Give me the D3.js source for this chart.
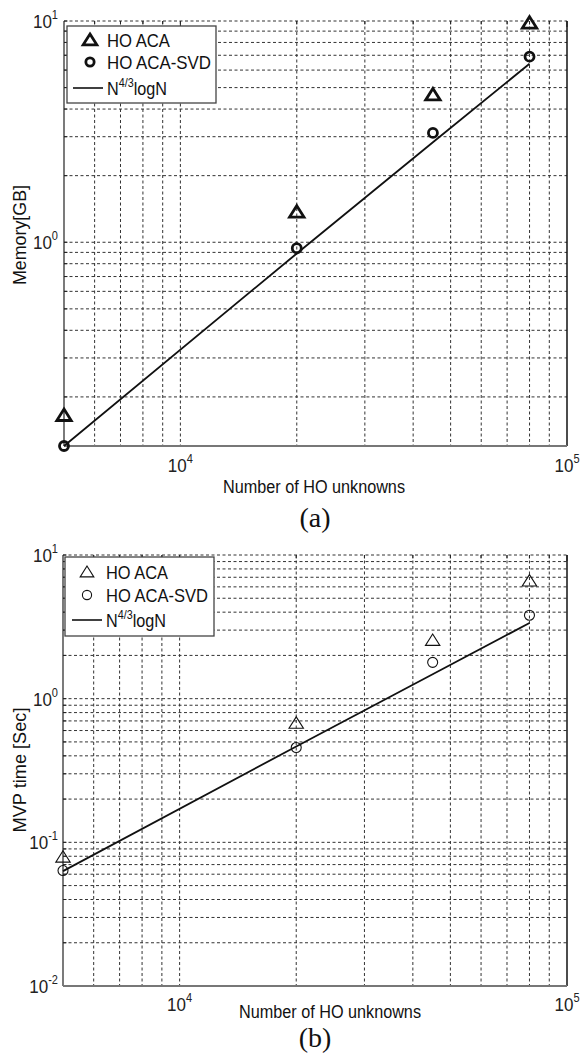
<!DOCTYPE html>
<html><head><meta charset="utf-8">
<script src="https://cdn.jsdelivr.net/npm/d3@7"></script>
<style>body{margin:0;background:#fff} svg{display:block}</style>
</head><body><svg id="c" width="583" height="1055"></svg>
<script>
// ---- data ----
const unknowns = [5000, 20000, 45000, 80000];
const memACA = [0.165, 1.37, 4.64, 9.8];
const memSVD = [0.12, 0.94, 3.12, 6.9];
const memFit = [0.12, 0.89, 2.83, 6.41];
const mvpACA = [0.079, 0.675, 2.55, 6.6];
const mvpSVD = [0.0636, 0.457, 1.79, 3.81];
const mvpFit = [0.063, 0.465, 1.48, 3.36];
const xTickValues = [1e4, 1e5];
const xTickExp = ["4", "5"];
const memTickValues = [1, 10];
const memTickExp = ["0", "1"];
const mvpTickValues = [0.01, 0.1, 1, 10];
const mvpTickExp = ["-2", "-1", "0", "1"];
const legendLabels = ["HO ACA", "HO ACA-SVD", "logN"];
const xTitle = "Number of HO unknowns";
const memTitle = "Memory[GB]";
const mvpTitle = "MVP time [Sec]";

const svg = d3.select("#c");
const FONT = "'Liberation Sans', Arial, sans-serif";

function minorTicks(lo, hi) {
  const out = [];
  for (let d = Math.floor(Math.log10(lo)); d <= Math.ceil(Math.log10(hi)); d++) {
    for (let k = 1; k <= 9; k++) {
      const v = k * Math.pow(10, d);
      if (v >= lo * 1.0001 && v <= hi * 1.0001) out.push(v);
    }
  }
  return out;
}

function tri(s) {
  const w = s * 0.6, h = s * 0.5;
  return `M0,${-h * 1.05}L${w},${h * 0.85}L${-w},${h * 0.85}Z`;
}

function drawPanel(cfg) {
  const g = svg.append("g");
  const x = d3.scaleLog().domain([5000, 1e5]).range([cfg.left, cfg.right]);
  const y = d3.scaleLog().domain(cfg.ydom).range([cfg.bottom, cfg.top]);

  // grid
  const gx = minorTicks(5000, 1e5).filter(v => v > 5000 && v < 1e5);
  const gy = minorTicks(cfg.ydom[0], cfg.ydom[1]).filter(v => v > cfg.ydom[0] * 1.001);
  g.selectAll(".gx").data(gx).join("line")
    .attr("x1", d => x(d)).attr("x2", d => x(d))
    .attr("y1", cfg.top).attr("y2", cfg.bottom)
    .attr("stroke", "#333").attr("stroke-width", 1).attr("stroke-dasharray", "3,2.5");
  g.selectAll(".gy").data(gy).join("line")
    .attr("x1", cfg.left).attr("x2", cfg.right)
    .attr("y1", d => y(d)).attr("y2", d => y(d))
    .attr("stroke", "#333").attr("stroke-width", 1).attr("stroke-dasharray", "3,2.5");

  // ticks (inside) on top/left
  const allx = minorTicks(5000, 1e5);
  g.selectAll(".tkt").data(allx).join("line")
    .attr("x1", d => x(d)).attr("x2", d => x(d))
    .attr("y1", cfg.top).attr("y2", d => cfg.top + (xTickValues.includes(d) ? 6 : 3.5))
    .attr("stroke", "#222").attr("stroke-width", 1);
  g.selectAll(".tkl").data(gy).join("line")
    .attr("x1", cfg.left).attr("x2", d => cfg.left + 3.5)
    .attr("y1", d => y(d)).attr("y2", d => y(d))
    .attr("stroke", "#222").attr("stroke-width", 1);

  // frame
  g.append("line").attr("x1", cfg.left).attr("x2", cfg.left).attr("y1", cfg.top).attr("y2", cfg.bottom)
    .attr("stroke", "#222").attr("stroke-width", 1.2);
  g.append("line").attr("x1", cfg.right).attr("x2", cfg.right).attr("y1", cfg.top).attr("y2", cfg.bottom)
    .attr("stroke", "#111").attr("stroke-width", 1.5);
  g.append("line").attr("x1", cfg.left).attr("x2", cfg.right).attr("y1", cfg.bottom).attr("y2", cfg.bottom)
    .attr("stroke", "#777").attr("stroke-width", 2);

  // x tick labels
  xTickValues.forEach((v, i) => {
    const t = g.append("g").attr("transform", `translate(${x(v)},${cfg.xLabY}) scale(0.92,1)`)
      .append("text").attr("text-anchor", "middle").attr("font-family", FONT)
      .attr("font-size", 18.5).attr("fill", "#222");
    t.append("tspan").text("10");
    t.append("tspan").attr("dy", -9).attr("font-size", 12).text(xTickExp[i]);
  });
  // y tick labels
  cfg.yTicks.forEach((v, i) => {
    const t = g.append("g").attr("transform", `translate(58,${y(v) + 7}) scale(0.92,1)`)
      .append("text").attr("text-anchor", "end").attr("font-family", FONT)
      .attr("font-size", 18.5).attr("fill", "#222");
    t.append("tspan").text("10");
    t.append("tspan").attr("dy", -9).attr("font-size", 12).text(cfg.yExp[i]);
  });

  // titles
  g.append("text").attr("x", (cfg.xTitleX0 + cfg.xTitleX1) / 2).attr("y", cfg.xTitleY)
    .attr("text-anchor", "middle").attr("font-family", FONT).attr("font-size", 17.5).attr("fill", "#111")
    .attr("textLength", cfg.xTitleX1 - cfg.xTitleX0).attr("lengthAdjust", "spacingAndGlyphs")
    .text(xTitle);
  g.append("text").attr("transform", `translate(25.5,${cfg.yTitleC}) rotate(-90)`)
    .attr("text-anchor", "middle").attr("font-family", FONT).attr("font-size", 17.5).attr("fill", "#111")
    .attr("textLength", cfg.yTitleLen).attr("lengthAdjust", "spacingAndGlyphs")
    .text(cfg.yTitle);
  g.append("text").attr("x", 315).attr("y", cfg.capY).attr("text-anchor", "middle")
    .attr("font-family", "'Liberation Serif', 'Times New Roman', serif").attr("font-size", 28).attr("fill", "#111")
    .text(cfg.caption);

  // fit line
  const line = d3.line().x((d, i) => x(unknowns[i])).y(d => y(d));
  g.append("path").datum(cfg.fit).attr("d", line).attr("fill", "none")
    .attr("stroke", "#111").attr("stroke-width", 1.8);

  // markers
  g.selectAll(".tri").data(cfg.aca).join("path")
    .attr("transform", (d, i) => `translate(${x(unknowns[i])},${y(d)})`)
    .attr("d", tri(cfg.ms)).attr("fill", "none").attr("stroke", "#111")
    .attr("stroke-width", cfg.msw).attr("stroke-linejoin", "miter");
  g.selectAll(".cir").data(cfg.svd).join("circle")
    .attr("cx", (d, i) => x(unknowns[i])).attr("cy", d => y(d))
    .attr("r", cfg.cr).attr("fill", "none").attr("stroke", "#111").attr("stroke-width", cfg.msw);

  // legend
  const L = cfg.leg;
  g.append("rect").attr("x", L.x0).attr("y", L.y0).attr("width", L.x1 - L.x0).attr("height", L.y1 - L.y0)
    .attr("fill", "#fff").attr("stroke", "#444").attr("stroke-width", 1.3);
  g.append("path").attr("transform", `translate(${L.mx},${L.rows[0]})`).attr("d", tri(cfg.ms * 0.95))
    .attr("fill", "none").attr("stroke", "#111").attr("stroke-width", cfg.msw);
  g.append("circle").attr("cx", L.mx).attr("cy", L.rows[1]).attr("r", cfg.cr * 0.92)
    .attr("fill", "none").attr("stroke", "#111").attr("stroke-width", cfg.msw);
  g.append("line").attr("x1", L.lx0).attr("x2", L.lx1).attr("y1", L.rows[2]).attr("y2", L.rows[2])
    .attr("stroke", "#111").attr("stroke-width", 1.6);
  [0, 1].forEach(i => {
    g.append("text").attr("x", L.tx).attr("y", L.rows[i] + 6.5).attr("font-family", FONT)
      .attr("font-size", 18).attr("fill", "#111")
      .attr("textLength", L.tw[i]).attr("lengthAdjust", "spacingAndGlyphs")
      .text(legendLabels[i]);
  });
  const t3 = g.append("g").attr("transform", `translate(${L.tx},${L.rows[2] + 6.5}) scale(0.9,1)`)
    .append("text").attr("font-family", FONT).attr("font-size", 18).attr("fill", "#111");
  t3.append("tspan").text("N");
  t3.append("tspan").attr("dy", -8).attr("font-size", 12).text("4/3");
  t3.append("tspan").attr("dy", 8).text(legendLabels[2]);
}

drawPanel({
  left: 64, right: 567, top: 21, bottom: 446, ydom: [0.12, 10],
  yTicks: memTickValues, yExp: memTickExp, xLabY: 472,
  xTitleX0: 223, xTitleX1: 405, xTitleY: 493,
  yTitle: memTitle, yTitleC: 235, yTitleLen: 100,
  caption: "(a)", capY: 527,
  aca: memACA, svd: memSVD, fit: memFit, ms: 12, msw: 2.8, cr: 4.5,
  leg: { x0: 67, x1: 216, y0: 26, y1: 103, rows: [40, 62, 88], mx: 90, lx0: 73, lx1: 103, tx: 107, tw: [63, 104] }
});

drawPanel({
  left: 63, right: 567, top: 555, bottom: 986, ydom: [0.01, 10],
  yTicks: mvpTickValues, yExp: mvpTickExp, xLabY: 1011,
  xTitleX0: 239, xTitleX1: 421, xTitleY: 1018,
  yTitle: mvpTitle, yTitleC: 770, yTitleLen: 125,
  caption: "(b)", capY: 1047,
  aca: mvpACA, svd: mvpSVD, fit: mvpFit, ms: 12, msw: 1.1, cr: 5,
  leg: { x0: 65, x1: 214, y0: 557, y1: 636, rows: [572, 595, 620], mx: 87, lx0: 72, lx1: 102, tx: 106, tw: [62, 102] }
});
</script></body></html>
